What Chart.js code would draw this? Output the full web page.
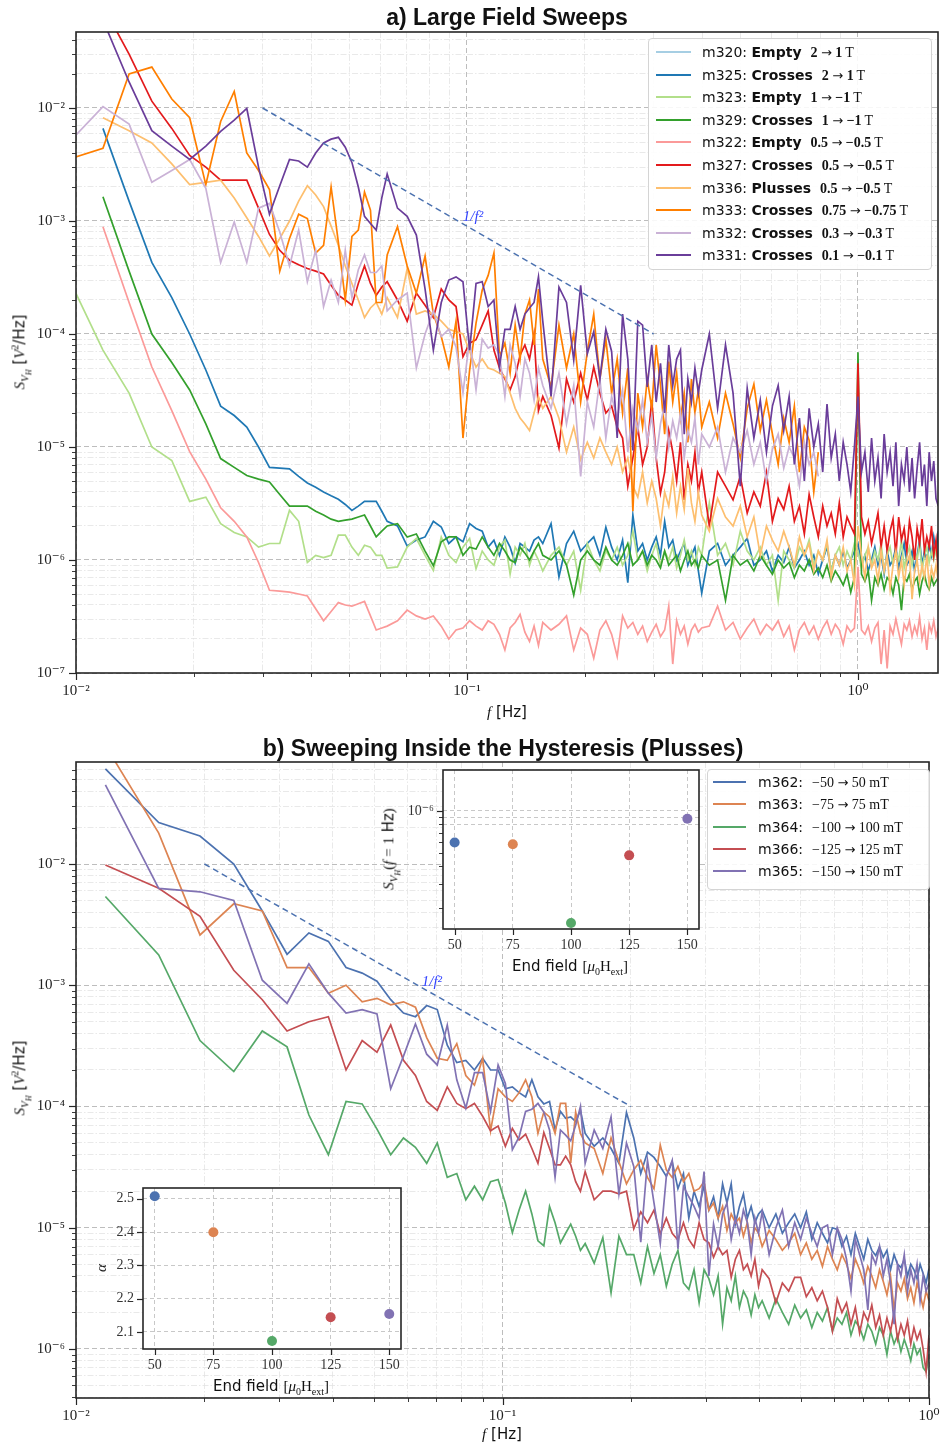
<!DOCTYPE html>
<html>
<head>
<meta charset="utf-8">
<script src="https://cdn.jsdelivr.net/npm/chart.js@4.4.1/dist/chart.umd.min.js"></script>
<style>
  body { margin: 0; background: #fff; }
  #wrap { position: relative; width: 941px; height: 1446px; overflow: hidden; color: #111; font-family: 'DejaVu Sans', sans-serif; }
  canvas { position: absolute; }
  .title { position: absolute; font-family: 'Liberation Sans', 'DejaVu Sans', sans-serif; font-weight: bold; font-size: 23px; white-space: nowrap; transform: translate(-50%, -50%); }
  .lbl { position: absolute; white-space: nowrap; transform: translate(-50%, -50%); font-size: 15px; }
  .rot { transform: translate(-50%, -50%) rotate(-90deg); }
  .m { font-family: 'Liberation Serif', 'DejaVu Serif', serif; }
  .ar { font-family: 'DejaVu Sans', sans-serif; font-weight: normal; font-size: 13px; }
  .legend { position: absolute; background: rgba(255,255,255,0.88); border: 1px solid #d4d4d4; border-radius: 4px; }
  .row { position: absolute; height: 20px; line-height: 20px; white-space: nowrap; font-size: 14px; }
  .sw { position: absolute; height: 2px; }
  sub, sup { line-height: 0; }
</style>
</head>
<body>
<div id="wrap">
  <canvas id="top" width="941" height="730" style="left:0;top:0"></canvas>
  <canvas id="bot" width="941" height="716" style="left:0;top:730px"></canvas>
  <canvas id="ins1" width="325" height="215" style="left:380px;top:765px"></canvas>
  <canvas id="ins2" width="320" height="215" style="left:90px;top:1183px"></canvas>

  <div class="title" style="left:507px;top:17px">a) Large Field Sweeps</div>
  <div class="title" style="left:503px;top:748px">b) Sweeping Inside the Hysteresis (Plusses)</div>

  <div class="lbl" style="left:507px;top:712px"><i class="m">f</i> [Hz]</div>
  <div class="lbl" style="left:502px;top:1434px"><i class="m">f</i> [Hz]</div>
  <div class="lbl rot" style="left:20px;top:352px"><i class="m">S</i><sub class="m" style="font-size:11px"><i>V</i><sub style="font-size:8px"><i>H</i></sub></sub> [<i class="m">V</i><sup class="m" style="font-size:10px">2</sup>/Hz]</div>
  <div class="lbl rot" style="left:20px;top:1078px"><i class="m">S</i><sub class="m" style="font-size:11px"><i>V</i><sub style="font-size:8px"><i>H</i></sub></sub> [<i class="m">V</i><sup class="m" style="font-size:10px">2</sup>/Hz]</div>

  <div class="lbl rot" style="left:389px;top:849px"><i class="m">S</i><sub class="m" style="font-size:11px"><i>V</i><sub style="font-size:8px"><i>H</i></sub></sub><span class="m">(<i>f</i> = 1</span> Hz<span class="m">)</span></div>
  <div class="lbl" style="left:570px;top:966px">End field <span class="m">[<i>μ</i><sub style="font-size:10px">0</sub>H<sub style="font-size:10px">ext</sub>]</span></div>
  <div class="lbl rot" style="left:101px;top:1268px"><i class="m">α</i></div>
  <div class="lbl" style="left:271px;top:1386px">End field <span class="m">[<i>μ</i><sub style="font-size:10px">0</sub>H<sub style="font-size:10px">ext</sub>]</span></div>

  <div class="legend" id="legTop" style="left:648px;top:38px;width:282px;height:230px"></div>
  <div class="legend" id="legBot" style="left:707px;top:769px;width:221px;height:119px"></div>
</div>

<script>
// ---- panel a) : frequency grid and spectra ----
const freqA = [
  0.00977, 0.01172, 0.01367, 0.01563, 0.01758, 0.01953, 0.02148, 0.02344, 0.02539, 0.02734, 0.0293, 0.03125, 0.0332, 0.03516,
  0.03711, 0.03906, 0.04102, 0.04297, 0.04492, 0.04688, 0.04883, 0.05078, 0.05273, 0.05469, 0.05664, 0.05859, 0.06055, 0.0625,
  0.06641, 0.07031, 0.07422, 0.07813, 0.08203, 0.08594, 0.08984, 0.09375, 0.09766, 0.10156, 0.10547, 0.10938, 0.11328, 0.11719,
  0.12109, 0.125, 0.12891, 0.13281, 0.13672, 0.14063, 0.14453, 0.14844, 0.15234, 0.15625,
  0.16406, 0.17188, 0.17969, 0.1875, 0.19531, 0.20313, 0.21094, 0.21875, 0.22656, 0.23438, 0.24219, 0.25, 0.25781, 0.26563,
  0.27344, 0.28125, 0.28906, 0.29688, 0.30469, 0.3125, 0.32031, 0.32813, 0.33594, 0.34375, 0.35156, 0.35938, 0.36719, 0.375,
  0.38281, 0.39063, 0.39844,
  0.41667, 0.4375, 0.45833, 0.47917, 0.5, 0.52083, 0.54167, 0.5625, 0.58333, 0.60417, 0.625, 0.64583, 0.66667, 0.6875, 0.70833,
  0.72917, 0.75, 0.77083, 0.79167, 0.8125, 0.83333, 0.85417, 0.875, 0.89583, 0.91667, 0.9375, 0.95833, 0.97917, 1.0, 1.02083,
  1.04167, 1.0625, 1.08333, 1.10417, 1.125, 1.14583, 1.16667, 1.1875, 1.20833, 1.22917, 1.25, 1.27083, 1.29167, 1.3125, 1.33333,
  1.35417, 1.375, 1.39583, 1.41667, 1.4375, 1.45833, 1.47917, 1.5, 1.52083, 1.54167, 1.5625, 1.58333, 1.60417
];

const m320 = [];
const m325 = [
  null, 6.6e-3, 1.5e-3, 4.3e-4, 2.1e-4, 1.0e-4, 4.8e-5, 2.3e-5, 1.9e-5, 1.5e-5, 1.0e-5, 6.6e-6, 6.5e-6, 6.4e-6, 5.5e-6, 4.8e-6,
  4.4e-6, 4.0e-6, 3.7e-6, 3.45e-6, 3.1e-6, 2.75e-6, 3.0e-6, 3.3e-6, 3.3e-6, 3.3e-6, 2.7e-6, 2.2e-6,
  2.0e-6, 1.33e-6, 1.5e-6, 1.6e-6, 2.2e-6, 1.96e-6, 1.4e-6, 1.6e-6, 1.45e-6, 2.1e-6, 1.9e-6, 1.8e-6, 1.3e-6, 1.5e-6, 1.1e-6,
  1.6e-6, 1.3e-6, 9.4e-7, 1.4e-6, 1.3e-6, 1.2e-6, 1.5e-6, 1.6e-6, 1.4e-6,
  2.1e-6, 7.1e-7, 1.4e-6, 1.8e-6, 1.2e-6, 1.4e-6, 1.6e-6, 1.1e-6, 1.95e-6, 1.3e-6, 1.0e-6, 1.5e-6, 6.3e-7, 2.5e-6, 1.2e-6,
  1.4e-6, 1.0e-6, 1.3e-6, 1.6e-6, 1.1e-6, 2.2e-6, 1.3e-6, 1.5e-6, 1.0e-6, 1.2e-6, 1.4e-6, 9e-7, 1.1e-6, 1.3e-6, 8e-7, 5.1e-7,
  1.2e-6, 1.4e-6, 9e-7, 1.1e-6, 1.3e-6, 1.55e-6, 9e-7, 1.0e-6, 1.2e-6, 8e-7, 1.1e-6, 9.5e-7, 1.3e-6, 8.5e-7, 1.0e-6, 1.2e-6,
  9e-7, 1.1e-6, 7.5e-7, 1.0e-6, 1.3e-6, 8e-7, 1.1e-6, 9e-7, 1.2e-6, 8.5e-7, 1.0e-6, 1.2e-6, 1.4e-6, 9e-7, 1.1e-6, 8e-7, 1.0e-6,
  1.3e-6, 9e-7, 1.1e-6, 7.5e-7, 1.2e-6, 9e-7, 1.0e-6, 1.3e-6, 8.5e-7, 1.1e-6, 1.4e-6, 9e-7, 1.0e-6, 1.2e-6, 8e-7, 1.1e-6,
  1.5e-6, 9e-7, 1.2e-6, 1.0e-6, 1.4e-6, 1.1e-6, 1.6e-6, 1.2e-6, 1.8e-6
];
const m323 = [
  2.7e-4, 7.2e-5, 3.0e-5, 1.0e-5, 7.6e-6, 3.3e-6, 3.6e-6, 2.1e-6, 1.75e-6, 1.6e-6, 1.3e-6, 1.4e-6, 1.4e-6, 2.75e-6, 2.2e-6,
  9.5e-7, 1.1e-6, 1.05e-6, 1.1e-6, 1.66e-6, 1.66e-6, 1.3e-6, 1.1e-6, 1.35e-6, 1.3e-6, 1.1e-6, 1.1e-6, 8.5e-7,
  8.7e-7, 1.3e-6, 1.55e-6, 1.1e-6, 8.1e-7, 1.6e-6, 1.1e-6, 9.5e-7, 1.3e-6, 1.55e-6, 8.4e-7, 1.2e-6, 1.0e-6, 9e-7, 1.3e-6,
  1.5e-6, 7.5e-7, 1.3e-6, 1.1e-6, 1.4e-6, 9e-7, 1.2e-6, 1.0e-6, 8e-7,
  1.1e-6, 1.3e-6, 9e-7, 1.2e-6, 5.4e-7, 1.4e-6, 1.0e-6, 8e-7, 1.2e-6, 1.0e-6, 1.3e-6, 9e-7, 1.1e-6, 1.8e-6, 1.0e-6, 1.2e-6,
  8e-7, 1.1e-6, 1.4e-6, 9e-7, 1.2e-6, 1.0e-6, 1.3e-6, 8.5e-7, 1.1e-6, 1.5e-6, 1.0e-6, 1.2e-6, 9e-7, 1.3e-6, 1.1e-6,
  3.2e-6, 1.1e-6, 1.4e-6, 9e-7, 1.8e-6, 1.2e-6, 1.0e-6, 1.3e-6, 9e-7, 1.1e-6, 4.4e-7, 1.2e-6, 1.0e-6, 8.5e-7, 1.3e-6, 1.1e-6,
  1.5e-6, 9e-7, 1.2e-6, 1.0e-6, 1.4e-6, 8e-7, 1.1e-6, 1.3e-6, 9e-7, 1.2e-6, 1.0e-6, 1.4e-6, 1.2e-6, 8.5e-7, 1.1e-6, 1.3e-6,
  9e-7, 1.2e-6, 1.0e-6, 1.4e-6, 8e-7, 1.1e-6, 1.3e-6, 9e-7, 1.2e-6, 1.0e-6, 1.5e-6, 8.5e-7, 1.1e-6, 1.3e-6, 9e-7, 1.2e-6,
  1.0e-6, 1.4e-6, 8e-7, 1.1e-6, 1.3e-6, 9.5e-7, 1.2e-6, 1.0e-6, 1.3e-6, 9e-7
];
const m329 = [
  null, 1.64e-3, 3.6e-4, 1.0e-4, 5.6e-5, 3.2e-5, 1.6e-5, 7.9e-6, 6.6e-6, 5.6e-6, 5.2e-6, 4.9e-6, 3.8e-6, 3.0e-6, 3.0e-6, 3.0e-6,
  2.7e-6, 2.5e-6, 2.3e-6, 2.2e-6, 2.25e-6, 2.3e-6, 2.4e-6, 2.5e-6, 2.0e-6, 1.6e-6, 1.8e-6, 2.0e-6,
  2.1e-6, 1.6e-6, 1.7e-6, 1.2e-6, 8.9e-7, 1.45e-6, 1.6e-6, 1.6e-6, 1.1e-6, 1.3e-6, 1.25e-6, 1.6e-6, 1.3e-6, 1.1e-6, 1.4e-6,
  1.2e-6, 1.0e-6, 9.5e-7, 1.3e-6, 1.15e-6, 1.0e-6, 1.2e-6, 1.4e-6, 1.1e-6,
  1.0e-6, 1.2e-6, 9e-7, 4.9e-7, 1.0e-6, 1.2e-6, 1.0e-6, 9e-7, 1.3e-6, 1.0e-6, 9e-7, 1.1e-6, 1.4e-6, 9e-7, 1.0e-6, 1.2e-6, 9e-7,
  1.1e-6, 1.0e-6, 8.5e-7, 1.2e-6, 9e-7, 1.0e-6, 1.1e-6, 8e-7, 1.0e-6, 1.2e-6, 9e-7, 1.0e-6, 8.5e-7, 1.1e-6,
  9e-7, 1.0e-6, 4.4e-7, 1.1e-6, 9e-7, 1.0e-6, 8e-7, 1.1e-6, 9e-7, 7.5e-7, 1.0e-6, 8.5e-7, 9.5e-7, 7e-7, 9e-7, 8e-7, 1.0e-6,
  7.5e-7, 8.5e-7, 7e-7, 9e-7, 6.5e-7, 8e-7, 7e-7, 6e-7, 7.5e-7, 5.2e-7, 7e-7, 6.9e-5, 7.5e-7, 6.5e-7, 8e-7, 4.4e-7, 7e-7, 6e-7,
  7.5e-7, 5.5e-7, 7e-7, 6.5e-7, 5e-7, 7e-7, 6e-7, 3.6e-7, 7e-7, 6.5e-7, 7.5e-7, 5.5e-7, 6.5e-7, 7e-7, 5e-7, 6.5e-7, 7.5e-7,
  6e-7, 5.5e-7, 7e-7, 6e-7, 6.5e-7, 7e-7
];
const m322 = [
  null, 8.9e-4, 1.9e-4, 5.1e-5, 2.1e-5, 9.1e-6, 5.2e-6, 2.9e-6, 2.2e-6, 1.6e-6, 9.5e-7, 5.4e-7, 5.3e-7, 5.2e-7, 5.0e-7, 4.8e-7,
  3.7e-7, 2.9e-7, 3.5e-7, 4.2e-7, 4.0e-7, 3.9e-7, 4.1e-7, 4.3e-7, 3.2e-7, 2.4e-7, 2.5e-7, 2.6e-7,
  2.9e-7, 3.6e-7, 3.2e-7, 3.0e-7, 3.2e-7, 2.6e-7, 2.0e-7, 2.4e-7, 2.5e-7, 2.9e-7, 2.6e-7, 2.4e-7, 2.9e-7, 2.7e-7, 2.2e-7,
  1.6e-7, 2.5e-7, 2.8e-7, 3.3e-7, 2.3e-7, 1.9e-7, 2.6e-7, 1.75e-7, 2.8e-7,
  2.4e-7, 2.7e-7, 3.2e-7, 1.6e-7, 2.5e-7, 2.2e-7, 1.35e-7, 2.4e-7, 2.9e-7, 2.2e-7, 1.4e-7, 3.2e-7, 2.5e-7, 2.8e-7, 2.2e-7,
  2.6e-7, 1.9e-7, 2.3e-7, 2.7e-7, 2.1e-7, 2.4e-7, 3.9e-7, 1.2e-7, 2.9e-7, 2.2e-7, 2.6e-7, 1.8e-7, 2.4e-7, 2.7e-7, 2.3e-7, 2.5e-7,
  2.6e-7, 3.9e-7, 2.4e-7, 2.8e-7, 2.0e-7, 2.5e-7, 3.0e-7, 2.2e-7, 2.7e-7, 2.4e-7, 2.9e-7, 2.1e-7, 2.6e-7, 1.6e-7, 2.4e-7,
  2.8e-7, 2.2e-7, 2.6e-7, 2.0e-7, 2.5e-7, 2.9e-7, 2.2e-7, 2.7e-7, 2.4e-7, 1.8e-7, 2.6e-7, 2.3e-7, 2.5e-7, 8.7e-7, 2.4e-7,
  2.2e-7, 2.6e-7, 1.9e-7, 2.5e-7, 2.8e-7, 1.2e-7, 2.4e-7, 1.1e-7, 2.6e-7, 2.2e-7, 3.0e-7, 2.3e-7, 1.8e-7, 2.7e-7, 2.4e-7,
  2.9e-7, 2.1e-7, 2.6e-7, 2.2e-7, 3.1e-7, 2.0e-7, 2.5e-7, 1.6e-7, 2.7e-7, 2.3e-7, 2.9e-7, 2.1e-7, 2.5e-7
];
const m327 = [
  1.5e-1, 8e-2, 3.0e-2, 1.15e-2, 6.6e-3, 3.8e-3, 3.0e-3, 2.3e-3, 2.3e-3, 2.3e-3, 1.3e-3, 7.6e-4, 5.5e-4, 4.5e-4, 4.1e-4,
  3.8e-4, 3.6e-4, 3.4e-4, 2.7e-4, 2.2e-4, 2.0e-4, 1.8e-4, 2.8e-4, 4.0e-4, 2.8e-4, 2.2e-4, 2.6e-4, 2.9e-4,
  2.0e-4, 1.3e-4, 2.3e-4, 1.8e-4, 1.4e-4, 2.5e-4, 2.0e-4, 1.75e-4, 6.3e-5, 8.3e-5, 8.9e-5, 1.2e-4, 1.6e-4, 7.2e-5, 5.0e-5,
  4.0e-5, 3.2e-5, 4.2e-5, 6.5e-5, 8.0e-5, 6.0e-5, 1.0e-4, 2.1e-5, 2.8e-5,
  1.9e-5, 9.8e-6, 4.0e-5, 2.5e-5, 4.5e-5, 2.6e-5, 5.1e-5, 3.0e-5, 2.0e-5, 2.3e-5, 1.5e-5, 1.2e-5, 4.5e-6, 8e-6, 1.5e-5, 7e-6,
  1.0e-5, 2.6e-5, 8e-6, 3.9e-6, 6e-6, 1.4e-5, 9e-6, 5e-6, 1.1e-5, 3.4e-6, 7e-6, 5e-6, 9e-6, 4e-6, 6e-6,
  2.0e-6, 6e-6, 4.5e-6, 3.4e-6, 5.5e-6, 2.6e-6, 4e-6, 3e-6, 6e-6, 2.2e-6, 3.5e-6, 2.8e-6, 4.5e-6, 2.2e-6, 3e-6, 1.7e-6, 3.8e-6,
  2.4e-6, 1.6e-6, 3e-6, 2e-6, 2.6e-6, 1.7e-6, 3.2e-6, 1.6e-6, 2.4e-6, 2.0e-6, 1.7e-6, 5.5e-5, 2.4e-6, 1.7e-6, 2.2e-6, 1.4e-6,
  1.9e-6, 2.6e-6, 1.3e-6, 2.0e-6, 1.2e-6, 1.8e-6, 2.3e-6, 1.1e-6, 2.4e-6, 1.5e-6, 1.9e-6, 1.2e-6, 2.2e-6, 1.6e-6, 1.0e-6,
  1.9e-6, 1.4e-6, 2.3e-6, 1.2e-6, 1.6e-6, 1.3e-6, 2.0e-6, 1.1e-6, 1.5e-6, 8.1e-7
];
const m336 = [
  null, 8.2e-3, 6.3e-3, 4.9e-3, 3.2e-3, 2.1e-3, 2.2e-3, 2.3e-3, 1.6e-3, 1.07e-3, 7.3e-4, 4.9e-4, 7.0e-4, 1.0e-3, 1.5e-3,
  2.05e-3, 1.7e-3, 1.34e-3, 9e-4, 6.1e-4, 4.0e-4, 2.8e-4, 2.0e-4, 1.4e-4, 1.7e-4, 1.9e-4, 1.5e-4, 2.1e-4,
  1.4e-4, 3.8e-4, 1.5e-4, 1.6e-4, 1.5e-4, 1.3e-4, 1.1e-4, 1.05e-4, 1.0e-4, 7e-5, 5.1e-5, 6e-5, 5e-5, 4.8e-5, 4.5e-5, 4.2e-5,
  3.0e-5, 2.2e-5, 1.8e-5, 1.6e-5, 1.4e-5, 2.0e-5, 2.8e-5, 2.2e-5,
  2.8e-5, 1.8e-5, 9e-6, 1.5e-5, 7.7e-6, 1.1e-5, 8e-6, 1.2e-5, 9e-6, 7e-6, 1.0e-5, 6e-6, 8e-6, 4.5e-6, 3.6e-6, 6e-6, 3.2e-6,
  5e-6, 3.5e-6, 2.0e-6, 4e-6, 3e-6, 5.5e-6, 2.6e-6, 4.5e-6, 2.8e-6, 6.5e-6, 3.2e-6, 2.2e-6, 4e-6, 2.5e-6,
  1.8e-6, 3.5e-6, 2.4e-6, 2.0e-6, 3e-6, 1.6e-6, 2.4e-6, 1.1e-6, 2.0e-6, 1.5e-6, 1.2e-6, 1.8e-6, 1.3e-6, 9e-7, 1.6e-6, 1.1e-6,
  1.4e-6, 8e-7, 1.2e-6, 1.0e-6, 1.5e-6, 7e-7, 1.1e-6, 9e-7, 1.3e-6, 8e-7, 1.0e-6, 6e-7, 2.0e-6, 1.1e-6, 7e-7, 1.3e-6, 8.5e-7,
  1.0e-6, 6.5e-7, 1.2e-6, 8e-7, 1.1e-6, 5.5e-7, 9e-7, 1.2e-6, 7e-7, 1.0e-6, 6e-7, 9.5e-7, 1.1e-6, 4.5e-7, 8e-7, 1.0e-6, 6.5e-7,
  9e-7, 7e-7, 1.1e-6, 6e-7, 8.5e-7, 7e-7, 9e-7, 6.5e-7
];
const m333 = [
  3.6e-3, 4.4e-3, 2.0e-2, 2.3e-2, 1.2e-2, 8.2e-3, 2.1e-3, 7.6e-3, 1.4e-2, 4.0e-3, 2.8e-3, 1.9e-3, 3.6e-4, 7.0e-4, 1.15e-3,
  1.05e-3, 5.2e-4, 6.1e-4, 2.0e-3, 6.5e-4, 2.0e-4, 7.3e-4, 8.3e-4, 1.8e-3, 1.25e-3, 1.9e-4, 1.9e-4, 5.0e-4,
  8.9e-4, 4.0e-4, 2.3e-4, 4.9e-4, 1.5e-4, 9.5e-5, 5.1e-5, 1.3e-4, 1.2e-5, 4.8e-5, 1.25e-4, 2.45e-4, 3.3e-4, 5.2e-4, 6.3e-5,
  8.3e-5, 4.5e-5, 1.2e-4, 6e-5, 1.5e-4, 2.0e-4, 8e-5, 2.5e-4, 6e-5,
  3.4e-5, 1.2e-4, 5e-5, 1.0e-4, 2.5e-5, 7e-5, 1.5e-4, 4e-5, 9e-5, 3e-5, 6e-5, 2.0e-5, 5e-5, 2.7e-6, 3e-5, 1.5e-5, 4e-5, 2.2e-5,
  8e-5, 3.5e-5, 1.3e-5, 5.7e-5, 2.5e-5, 4.5e-5, 1.8e-5, 3e-5, 1.1e-5, 4e-5, 2e-5, 3.2e-5, 1.5e-5,
  2.5e-5, 1.2e-5, 3e-5, 1.6e-5, 8e-6, 2.2e-5, 3.6e-5, 1.4e-5, 2.6e-5, 1.3e-5, 7e-6, 1.8e-5, 1.1e-5, 2.3e-5, 6e-6, 1.5e-5,
  1.15e-5, 4e-6, 9e-6
];
const m332 = [
  5.3e-3, 1.03e-2, 7.2e-3, 2.2e-3, 2.8e-3, 3.5e-3, 1.95e-3, 4.3e-4, 9.8e-4, 4.3e-4, 1.3e-3, 1.43e-3, 8e-4, 4.0e-4, 8.3e-4,
  2.9e-4, 5.5e-4, 1.75e-4, 3.0e-4, 1.9e-4, 5.5e-4, 2.1e-4, 3.7e-4, 5e-4, 3.5e-4, 3.5e-4, 4.0e-4, 1.6e-4,
  2.0e-4, 2.3e-4, 5e-5, 1.0e-4, 1.6e-4, 9.5e-5, 1.1e-4, 7.7e-5, 3.0e-5, 9e-5, 3.2e-5, 9e-5, 7.5e-5, 8e-5, 6.5e-5, 2.8e-5,
  8e-5, 5.5e-5, 2.8e-5, 6e-5, 4.5e-5, 2.6e-5, 5e-5, 3.5e-5,
  2.2e-5, 4.5e-5, 1.6e-5, 3.5e-5, 5.5e-6, 2.5e-5, 1.5e-5, 4e-5, 1.2e-5, 2.8e-5, 1.8e-5, 3.2e-5, 9e-6, 2.2e-5, 1.4e-5, 2.6e-5,
  1.1e-5, 1.9e-5, 8e-6, 1.6e-5, 2.4e-5, 1.0e-5, 1.7e-5, 1.2e-5, 2.0e-5, 8e-6, 1.4e-5, 1.1e-5, 1.8e-5, 7e-6, 1.3e-5,
  1.0e-5, 1.5e-5, 6e-6, 1.2e-5, 9e-6, 1.4e-5, 7e-6, 1.1e-5, 5e-6, 9.5e-6, 1.3e-5, 6.5e-6, 1.0e-5, 8e-6, 4.5e-6, 1.1e-5, 7e-6,
  9e-6, 5.5e-6
];
const m331 = [
  1.2e-1, 6e-2, 1.7e-2, 6.3e-3, 4.6e-3, 3.5e-3, 4.6e-3, 6.2e-3, 7.8e-3, 9.9e-3, 3.0e-3, 1.15e-3, 2.05e-3, 3.5e-3, 3.4e-3,
  3.0e-3, 4.0e-3, 4.9e-3, 5.3e-3, 5.5e-3, 4.5e-3, 3.3e-3, 2.0e-3, 1.1e-3, 9.5e-4, 8.3e-4, 1.6e-3, 2.6e-3,
  1.3e-3, 1.1e-3, 7.5e-4, 2.5e-4, 7.2e-5, 1.9e-4, 3.0e-4, 3.2e-4, 2.9e-4, 7.2e-5, 2.8e-4, 2.9e-4, 1.75e-4, 2.0e-4, 5.1e-5,
  1.1e-4, 1.1e-4, 1.75e-4, 1.1e-4, 1.5e-4, 1.7e-4, 1.9e-4, 3.2e-4, 1.3e-4,
  2.8e-5, 2.6e-4, 1.9e-4, 5.9e-5, 2.7e-4, 6.7e-5, 1.05e-4, 4e-5, 1.1e-4, 7e-5, 1.2e-5, 1.5e-4, 6e-5, 9.3e-6, 1.3e-4, 1.2e-4,
  3.4e-5, 8e-5, 2.5e-5, 5.5e-5, 2.0e-5, 8e-5, 3.5e-5, 6e-5, 7.2e-5, 1.3e-5, 4e-5, 2.5e-5, 5e-5, 3e-5, 4.8e-5,
  1.0e-4, 2.2e-5, 8e-5, 3e-5, 4.5e-6, 3.3e-5, 1.2e-5, 2.6e-5, 9e-6, 2.3e-5, 3.5e-5, 1.4e-5, 2.8e-5, 7e-6, 1.8e-5, 5e-6, 2.2e-5,
  1.0e-5, 1.6e-5, 6e-6, 2.4e-5, 8e-6, 1.3e-5, 5e-6, 1.1e-5, 7e-6, 4e-6, 1.0e-5, 2.8e-5, 6e-6, 9e-6, 4e-6, 1.2e-5, 5e-6, 8e-6,
  3.5e-6, 1.3e-5, 6e-6, 9e-6, 4.5e-6, 1.1e-5, 3e-6, 7e-6, 5e-6, 1.0e-5, 4e-6, 8e-6, 3.5e-6, 6.5e-6, 1.1e-5, 4.5e-6, 7e-6, 3e-6,
  9e-6, 5e-6, 7.5e-6, 3.5e-6, 3.0e-6
];

const topIds = ['m320', 'm325', 'm323', 'm329', 'm322', 'm327', 'm336', 'm333', 'm332', 'm331'];
const topKinds = ['Empty', 'Crosses', 'Empty', 'Crosses', 'Empty', 'Crosses', 'Plusses', 'Crosses', 'Crosses', 'Crosses'];
const topRanges = ['2 → 1', '2 → 1', '1 → −1', '1 → −1', '0.5 → −0.5', '0.5 → −0.5', '0.5 → −0.5', '0.75 → −0.75', '0.3 → −0.3', '0.1 → −0.1'];
const topColors = ['#a6cee3', '#1f78b4', '#b2df8a', '#33a02c', '#fb9a99', '#e31a1c', '#fdbf6f', '#ff7f00', '#cab2d6', '#6a3d9a'];
const topSeries = [m320, m325, m323, m329, m322, m327, m336, m333, m332, m331];
const topFitF = [0.03, 0.3];
const topFitS = [1e-2, 1e-4];

// ---- panel b) ----
const freqB = [
  0.01172, 0.01563, 0.01953, 0.02344, 0.02734, 0.03125, 0.03516, 0.03906, 0.04297, 0.04688, 0.05078, 0.05469, 0.05859, 0.0625,
  0.06641, 0.07031, 0.07422, 0.07813, 0.08203, 0.08594, 0.08984, 0.09375, 0.09766, 0.10156, 0.10547, 0.10938, 0.11328, 0.11719,
  0.12109, 0.125, 0.12891, 0.13281, 0.13672, 0.14063, 0.14453, 0.14844, 0.15234, 0.15625,
  0.16406, 0.17188, 0.17969, 0.1875, 0.19531, 0.20313, 0.21094, 0.21875, 0.22656, 0.23438, 0.24219, 0.25, 0.25781, 0.26563,
  0.27344, 0.28125, 0.28906, 0.29688, 0.30469, 0.3125, 0.32031, 0.32813, 0.33594, 0.34375, 0.35156, 0.35938, 0.36719, 0.375,
  0.38281, 0.39063, 0.39844,
  0.40625, 0.42188, 0.4375, 0.45313, 0.46875, 0.48438, 0.5, 0.51563, 0.53125, 0.54688, 0.5625, 0.57813, 0.59375, 0.60938, 0.625,
  0.64063, 0.65625, 0.67188, 0.6875, 0.70313, 0.71875, 0.73438, 0.75, 0.76563, 0.78125, 0.79688, 0.8125, 0.82813, 0.84375,
  0.85938, 0.875, 0.89063, 0.90625, 0.92188, 0.9375, 0.95313, 0.96875, 0.98438, 1.0
];
const m362 = [
  6.1e-2, 2.2e-2, 1.7e-2, 1.0e-2, 4.1e-3, 1.8e-3, 2.7e-3, 2.3e-3, 1.4e-3, 1.26e-3, 1.08e-3, 7.6e-4, 5.9e-4, 5.5e-4, 6.8e-4,
  6.3e-4, 3.2e-4, 2.3e-4, 2.4e-4, 2.0e-4, 2.5e-4, 2.0e-4, 2.0e-4, 1.4e-4, 1.45e-4, 1.3e-4, 1.2e-4, 1.66e-4, 1.2e-4, 1.05e-4,
  1.1e-4, 6.4e-5, 9.1e-5, 8e-5, 8.2e-5, 7.5e-5, 9.3e-5, 6e-5,
  4.7e-5, 5.5e-5, 4.5e-5, 3.4e-5, 8.9e-5, 5.5e-5, 2.8e-5, 4.2e-5, 3.8e-5, 3.2e-5, 2.65e-5, 3.5e-5, 2.1e-5, 2.8e-5, 1.2e-5,
  2.0e-5, 1.5e-5, 2.2e-5, 1.4e-5, 1.8e-5, 1.2e-5, 2.3e-5, 1.6e-5, 2.3e-5, 1.07e-5, 1.5e-5, 1.9e-5, 1.2e-5, 1.5e-5, 1.1e-5, 1.3e-5,
  1.4e-5, 1.0e-5, 1.3e-5, 9e-6, 1.1e-5, 1.3e-5, 1.0e-5, 1.35e-5, 8e-6, 1.1e-5, 9e-6, 7.5e-6, 1.0e-5, 9.7e-6, 7e-6, 8.5e-6, 6e-6,
  9e-6, 7e-6, 5.5e-6, 8e-6, 6.5e-6, 5.9e-6, 7e-6, 5.7e-6, 6.5e-6, 4.5e-6, 6e-6, 5e-6, 4.7e-6, 5.5e-6, 4e-6, 5e-6, 4.5e-6, 3.8e-6,
  5e-6, 4.2e-6, 3.5e-6, 4.6e-6
];
const m363 = [
  9.5e-2, 1.8e-2, 2.6e-3, 4.7e-3, 4.1e-3, 1.4e-3, 1.4e-3, 8.6e-4, 1.0e-3, 7.3e-4, 7.8e-4, 6.9e-4, 7.3e-4, 6.6e-4, 3.7e-4,
  2.5e-4, 2.4e-4, 3.3e-4, 1.8e-4, 1.5e-4, 2.5e-4, 6.3e-5, 1.4e-4, 1.2e-4, 1.1e-4, 1.3e-4, 1.66e-4, 1.2e-4, 6e-5, 9e-5, 8.2e-5,
  6e-5, 1.06e-4, 1.06e-4, 3.4e-5, 9e-5, 6e-5, 5e-5,
  4.5e-5, 2.8e-5, 5.5e-5, 3.5e-5, 2.3e-5, 3.0e-5, 3.6e-5, 2.6e-5, 2.1e-5, 4.8e-5, 3e-5, 2.6e-5, 3.2e-5, 2.4e-5, 2.8e-5, 2.0e-5,
  2.1e-5, 2.4e-5, 1.4e-5, 1.6e-5, 1.2e-5, 1.5e-5, 9.5e-6, 1.3e-5, 1.1e-5, 1.2e-5, 8.5e-6, 1.1e-5, 7.5e-6, 1.0e-5, 9e-6,
  7e-6, 9.5e-6, 8e-6, 6.5e-6, 7.5e-6, 9e-6, 6e-6, 7.5e-6, 5.5e-6, 6.5e-6, 4.8e-6, 7e-6, 5.5e-6, 4.5e-6, 6e-6, 5e-6, 3.8e-6,
  5.5e-6, 4.5e-6, 3.5e-6, 4.8e-6, 4e-6, 3.2e-6, 4.5e-6, 3.6e-6, 2.8e-6, 4e-6, 2.1e-6, 3.5e-6, 3e-6, 3.8e-6, 2.6e-6, 3.2e-6,
  2.4e-6, 3.5e-6, 2.8e-6, 2.2e-6, 3.0e-6, 2.5e-6
];
const m364 = [
  5.4e-3, 1.78e-3, 3.5e-4, 1.94e-4, 4.2e-4, 3.1e-4, 8.5e-5, 4.0e-5, 1.1e-4, 1.05e-4, 6.5e-5, 4.0e-5, 5.5e-5, 4.6e-5, 3.4e-5,
  5.0e-5, 2.6e-5, 2.8e-5, 1.7e-5, 2.2e-5, 1.7e-5, 2.4e-5, 2.5e-5, 1.6e-5, 9.1e-6, 1.4e-5, 2.0e-5, 1.3e-5, 7.8e-6, 7.1e-6,
  1.5e-5, 1.1e-5, 7.5e-6, 9e-6, 1.07e-5, 8.5e-6, 6.5e-6, 7.4e-6,
  5.1e-6, 8.3e-6, 2.9e-6, 8.5e-6, 6.0e-6, 6e-6, 3.5e-6, 7e-6, 4.2e-6, 6e-6, 3.3e-6, 5e-6, 6.5e-6, 3.5e-6, 3.1e-6, 4.5e-6,
  2.4e-6, 4.5e-6, 3.8e-6, 2.8e-6, 4e-6, 1.6e-6, 3.2e-6, 2.5e-6, 4.0e-6, 2.2e-6, 3e-6, 2.6e-6, 1.9e-6, 2.8e-6, 2.2e-6,
  2.5e-6, 1.8e-6, 2.6e-6, 2.0e-6, 1.6e-6, 2.3e-6, 1.8e-6, 2.1e-6, 1.5e-6, 2.0e-6, 1.7e-6, 2.2e-6, 1.4e-6, 1.8e-6, 1.6e-6,
  2.0e-6, 1.3e-6, 1.7e-6, 1.5e-6, 1.2e-6, 1.6e-6, 1.4e-6, 1.1e-6, 1.5e-6, 1.3e-6, 9e-7, 1.4e-6, 1.1e-6, 1.3e-6, 9.5e-7,
  1.2e-6, 1.0e-6, 8e-7, 1.1e-6, 9e-7, 1.0e-6, 7e-7, 6.5e-7, 9e-7
];
const m366 = [
  9.8e-3, 6.3e-3, 3.7e-3, 1.33e-3, 7.6e-4, 4.2e-4, 5.0e-4, 5.5e-4, 2.0e-4, 3.5e-4, 2.8e-4, 4.7e-4, 2.4e-4, 1.8e-4, 1.1e-4,
  9.3e-5, 1.45e-4, 1.06e-4, 9.6e-5, 1.06e-4, 8.3e-5, 6.3e-5, 6.9e-5, 4.7e-5, 6.6e-5, 5.3e-5, 5.9e-5, 4.5e-5, 3.4e-5, 6.1e-5,
  4.5e-5, 3.3e-5, 3.3e-5, 3.9e-5, 3.3e-5, 2.4e-5, 2.0e-5, 2.9e-5,
  1.7e-5, 2.0e-5, 2.0e-5, 1.9e-5, 2.0e-5, 9.8e-6, 1.35e-5, 1.1e-5, 1.4e-5, 8.9e-6, 1.2e-5, 9e-6, 7.9e-6, 1.1e-5, 8e-6, 6.9e-6,
  1.1e-5, 8e-6, 7.5e-6, 5.7e-6, 7e-6, 6e-6, 6.5e-6, 3.9e-6, 5.5e-6, 6.5e-6, 4.5e-6, 5e-6, 4.0e-6, 5.5e-6, 3.3e-6,
  4.5e-6, 3.8e-6, 2.4e-6, 3.5e-6, 3.0e-6, 3.9e-6, 3.9e-6, 2.7e-6, 3.2e-6, 2.5e-6, 3.0e-6, 2.2e-6, 1.4e-6, 2.6e-6, 2.0e-6,
  2.4e-6, 1.6e-6, 2.2e-6, 1.35e-6, 2.0e-6, 1.7e-6, 2.3e-6, 1.5e-6, 1.9e-6, 1.3e-6, 1.8e-6, 1.4e-6, 2.0e-6, 1.2e-6, 1.6e-6,
  1.3e-6, 1.7e-6, 1.1e-6, 1.5e-6, 1.2e-6, 1.4e-6, 1.0e-6, 6.5e-7, 1.3e-6
];
const m365 = [
  4.5e-2, 6.3e-3, 5.9e-3, 5.0e-3, 1.1e-3, 7.1e-4, 1.5e-3, 8.6e-4, 5.9e-4, 6.3e-4, 5.8e-4, 1.4e-4, 2.6e-4, 4.8e-4, 2.7e-4,
  2.2e-4, 4.7e-4, 1.66e-4, 9.7e-5, 1.9e-4, 1.9e-4, 9.1e-5, 2.2e-4, 1.55e-4, 4.4e-5, 5.6e-5, 9.1e-5, 9.5e-5, 1.06e-4, 9e-5,
  6.4e-5, 2.6e-5, 6.4e-5, 5.8e-5, 5.2e-5, 7e-5, 1.0e-4, 3.4e-5,
  6.4e-5, 4.5e-5, 8.2e-5, 1.9e-5, 5.0e-5, 3.2e-5, 7.6e-6, 3.6e-5, 1.6e-5, 7.4e-6, 2.65e-5, 3.6e-5, 6.7e-6, 2.2e-5, 1.8e-5,
  1.5e-5, 1.2e-5, 2.9e-5, 4.0e-6, 1.07e-5, 7e-6, 1.3e-5, 1.6e-5, 8e-6, 1.2e-5, 9e-6, 1.4e-5, 1.1e-5, 6e-6, 1.2e-5, 9e-6,
  1.35e-5, 6e-6, 1.0e-5, 1.4e-5, 7e-6, 1.1e-5, 8e-6, 1.2e-5, 9e-6, 7e-6, 1.0e-5, 1.05e-5, 6e-6, 1.0e-5, 8e-6, 5.5e-6, 3.0e-6,
  8e-6, 6e-6, 4.5e-6, 2.1e-6, 6e-6, 5e-6, 7e-6, 4e-6, 5.5e-6, 3.5e-6, 1.6e-6, 5e-6, 4e-6, 6e-6, 3e-6, 4.5e-6, 3.5e-6, 5e-6,
  2.5e-6, 4e-6, 3e-6, 3.5e-6
];

const botIds = ['m362', 'm363', 'm364', 'm366', 'm365'];
const botRanges = ['−50 → 50', '−75 → 75', '−100 → 100', '−125 → 125', '−150 → 150'];
const botColors = ['#4c72b0', '#dd8452', '#55a868', '#c44e52', '#8172b3'];
const botSeries = [m362, m363, m364, m366, m365];
const botFitF = [0.02, 0.2];
const botFitS = [1e-2, 1e-4];

// insets
const endField = [50, 75, 100, 125, 150];
const s1Hz = [5.93e-7, 5.77e-7, 1.57e-7, 4.8e-7, 8.8e-7];
const alphaFit = [2.507, 2.399, 2.073, 2.144, 2.154];
const fieldTicks = [50, 75, 100, 125, 150];
const alphaTicks = [2.1, 2.2, 2.3, 2.4, 2.5];

const SERIF = "'Liberation Serif', 'DejaVu Serif', serif";
const SUP = { '-': '⁻', '0': '⁰', '1': '¹', '2': '²', '3': '³', '4': '⁴', '5': '⁵', '6': '⁶', '7': '⁷', '8': '⁸', '9': '⁹' };

function sup(n) { return String(n).split('').map(c => SUP[c]).join(''); }
function isDecade(v) { const l = Math.log10(v); return Math.abs(l - Math.round(l)) < 1e-6; }
function decadeLabel(v) { return isDecade(v) ? '10' + sup(Math.round(Math.log10(v))) : ''; }

function logTicks(min, max) {
  const out = [];
  for (let e = Math.floor(Math.log10(min)); e <= Math.ceil(Math.log10(max)); e++) {
    for (let m = 1; m <= 9; m++) {
      const v = m * Math.pow(10, e);
      if (v >= min * 0.9999 && v <= max * 1.0001) out.push({ value: v });
    }
  }
  return out;
}

function pts(F, vals) { return vals.map((v, i) => ({ x: F[i], y: v })); }

// fixed axis thickness, and no extra room asked for edge labels
function fixSize(s, size) {
  if (s.isHorizontal()) s.height = size; else s.width = size;
  s.paddingTop = 0; s.paddingBottom = 0; s.paddingLeft = 0; s.paddingRight = 0;
}

// frame box + outward tick marks (major / minor)
const frame = {
  id: 'frame',
  beforeDraw(chart, args, o) {
    if (!o.fill) return;
    const a = chart.chartArea, ctx = chart.ctx;
    ctx.save();
    ctx.fillStyle = '#fff';
    ctx.fillRect(a.left, a.top, a.width, a.height);
    ctx.restore();
  },
  afterDraw(chart, args, o) {
    const a = chart.chartArea, ctx = chart.ctx;
    ctx.save();
    ctx.strokeStyle = '#262626';
    ['x', 'y'].forEach(id => {
      const s = chart.scales[id];
      const log = s.type === 'logarithmic';
      s.ticks.forEach(t => {
        const major = !log || isDecade(t.value);
        const len = major ? o.major : o.minor;
        ctx.lineWidth = major ? 1.2 : 0.9;
        ctx.beginPath();
        if (id === 'x') {
          const px = Math.round(s.getPixelForValue(t.value)) + 0.5;
          ctx.moveTo(px, a.bottom); ctx.lineTo(px, a.bottom + len);
        } else {
          const py = Math.round(s.getPixelForValue(t.value)) + 0.5;
          ctx.moveTo(a.left, py); ctx.lineTo(a.left - len, py);
        }
        ctx.stroke();
      });
    });
    ctx.lineWidth = 1.6;
    ctx.strokeRect(a.left, a.top, a.width, a.height);
    ctx.restore();
  }
};

// "1/f²" note next to the reference line
const fitText = {
  id: 'fitText',
  afterDatasetsDraw(chart, args, o) {
    if (!o.text) return;
    const ctx = chart.ctx;
    const x = chart.scales.x.getPixelForValue(o.f);
    const y = chart.scales.y.getPixelForValue(o.s);
    ctx.save();
    ctx.font = 'italic 15px ' + SERIF;
    ctx.fillStyle = o.color;
    ctx.textAlign = 'center';
    ctx.textBaseline = 'middle';
    ctx.fillText(o.text, x, y);
    ctx.restore();
  }
};

function logAxis(min, max, position, size) {
  const horiz = position === 'bottom';
  return {
    type: 'logarithmic', position, min, max,
    afterBuildTicks: s => { s.ticks = logTicks(min, max); },
    afterFit: s => fixSize(s, size),
    ticks: {
      autoSkip: false, maxRotation: 0, minRotation: 0, padding: horiz ? 9 : 11, color: '#222',
      font: { family: SERIF, size: 15 }, callback: v => decadeLabel(v)
    },
    grid: {
      drawTicks: false,
      color: c => !c.tick ? 'transparent' : (isDecade(c.tick.value) ? '#bdbdbd' : '#e3e3e3'),
      lineWidth: c => (c.tick && isDecade(c.tick.value)) ? 1 : 0.8
    },
    border: { display: false, dash: c => (c.tick && isDecade(c.tick.value)) ? [5, 3] : [6, 2, 1.5, 2] }
  };
}

function spectrum(id, F, series, colors, ids, xr, yr, fitF, fitS, note, pad) {
  const datasets = series.map((vals, i) => ({
    label: ids[i], data: pts(F, vals), borderColor: colors[i], borderWidth: 1.7,
    pointRadius: 0, tension: 0, fill: false, order: series.length - i + 1
  }));
  datasets.push({
    label: '1/f2', data: pts(fitF, fitS), borderColor: '#4c72b0', borderWidth: 1.5,
    borderDash: [6, 4], pointRadius: 0, fill: false, order: 0
  });
  return new Chart(document.getElementById(id), {
    type: 'line',
    data: { datasets },
    options: {
      responsive: false, animation: false, devicePixelRatio: 1,
      layout: { padding: pad, autoPadding: false },
      plugins: {
        legend: { display: false }, tooltip: { enabled: false },
        frame: { fill: false, major: 7, minor: 4 },
        fitText: note
      },
      scales: { x: logAxis(xr[0], xr[1], 'bottom', 30), y: logAxis(yr[0], yr[1], 'left', 76) }
    },
    plugins: [frame, fitText]
  });
}

spectrum('top', freqA, topSeries, topColors, topIds, [0.01, 1.602], [1e-7, 0.04705],
  topFitF, topFitS, { text: '1/f²', f: 0.1036, s: 1.08e-3, color: '#3344ff' },
  { left: 0, right: 3, top: 32, bottom: 27 });

spectrum('bot', freqB, botSeries, botColors, botIds, [0.01, 1.0], [3.94e-7, 0.0694],
  botFitF, botFitS, { text: '1/f²', f: 0.0683, s: 1.06e-3, color: '#3344ff' },
  { left: 0, right: 12, top: 32, bottom: 18 });

function fieldAxis() {
  return {
    type: 'linear', min: 45, max: 155,
    afterBuildTicks: s => { s.ticks = fieldTicks.map(v => ({ value: v })); },
    afterFit: s => fixSize(s, 20),
    ticks: { autoSkip: false, maxRotation: 0, padding: 8, color: '#333', font: { family: SERIF, size: 14 } },
    grid: { drawTicks: false, color: '#c8c8c8', lineWidth: 1 },
    border: { display: false, dash: [4, 3] }
  };
}

function inset(id, ys, yAxis, pad) {
  return new Chart(document.getElementById(id), {
    type: 'scatter',
    data: { datasets: [{ data: endField.map((x, i) => ({ x, y: ys[i] })), pointBackgroundColor: botColors, pointBorderWidth: 0, pointRadius: 5 }] },
    options: {
      responsive: false, animation: false, devicePixelRatio: 1,
      layout: { padding: pad, autoPadding: false },
      plugins: { legend: { display: false }, tooltip: { enabled: false }, frame: { fill: true, major: 6, minor: 4 } },
      scales: { x: fieldAxis(), y: yAxis }
    },
    plugins: [frame]
  });
}

inset('ins1', s1Hz, {
  type: 'logarithmic', min: 1.42e-7, max: 1.97e-6,
  afterBuildTicks: s => { s.ticks = logTicks(1.42e-7, 1.97e-6); },
  afterFit: s => fixSize(s, 63),
  ticks: { autoSkip: false, padding: 9, color: '#333', font: { family: SERIF, size: 14 }, callback: v => decadeLabel(v) },
  grid: { drawTicks: false, color: c => (c.tick && c.tick.value > 7.9e-7) ? '#c8c8c8' : 'transparent', lineWidth: 1 },
  border: { display: false, dash: [4, 3] }
}, { left: 0, right: 6, top: 5, bottom: 31 });

inset('ins2', alphaFit, {
  type: 'linear', min: 2.049, max: 2.532,
  afterBuildTicks: s => { s.ticks = alphaTicks.map(v => ({ value: v })); },
  afterFit: s => fixSize(s, 53),
  ticks: { autoSkip: false, padding: 9, color: '#333', font: { family: SERIF, size: 14 }, callback: v => v.toFixed(1) },
  grid: { drawTicks: false, color: '#c8c8c8', lineWidth: 1 },
  border: { display: false, dash: [4, 3] }
}, { left: 0, right: 9, top: 5, bottom: 29 });

// legends
function arrow(s) { return s.replace('→', '<span class="ar">→</span>'); }

function legend(boxId, rows, step, first, swLeft, swWidth, textLeft) {
  const box = document.getElementById(boxId);
  rows.forEach((r, i) => {
    const cy = first + step * i;
    const sw = document.createElement('div');
    sw.className = 'sw';
    sw.style.cssText = `left:${swLeft}px;top:${cy - 1}px;width:${swWidth}px;background:${r.color}`;
    box.appendChild(sw);
    const t = document.createElement('div');
    t.className = 'row';
    t.style.cssText = `left:${textLeft}px;top:${cy - 10}px`;
    t.innerHTML = r.html;
    box.appendChild(t);
  });
}

legend('legTop', topIds.map((id, i) => ({
  color: topColors[i],
  html: `${id}: <b>${topKinds[i]}</b>&nbsp; <span class="m" style="font-weight:bold">${arrow(topRanges[i])}</span><span class="m">&thinsp;T</span>`
})), 22.6, 13, 7, 35, 53);

legend('legBot', botIds.map((id, i) => ({
  color: botColors[i],
  html: `${id}:&nbsp; <span class="m">${arrow(botRanges[i])} mT</span>`
})), 22.3, 12, 5, 33, 50);
</script>
</body>
</html>
